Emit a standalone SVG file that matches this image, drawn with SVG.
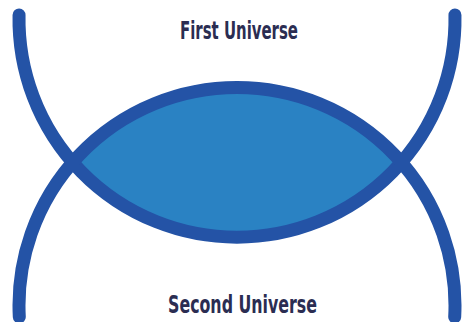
<svg xmlns="http://www.w3.org/2000/svg" width="465" height="322" viewBox="0 0 465 322">
  <style>
    .arc { fill: none; stroke: #2453a6; stroke-width: 13; stroke-linecap: round; }
    .lens { fill: #2a82c3; stroke: none; }
    .label { font-family: "Liberation Sans Narrow", "DejaVu Sans Condensed", "Liberation Sans", sans-serif; font-weight: bold; font-size: 24px; fill: #2b2d52; text-anchor: middle; }
  </style>
  <rect width="465" height="322" fill="#ffffff"/>
  <g id="overlap">
    <path class="lens" d="M72.9,162.5 A218,218 0 0 1 401.1,162.5 A218,218 0 0 1 72.9,162.5 Z"/>
  </g>
  <g id="connectors">
    <g id="first-universe-arc">
      <path class="arc" d="M19.04,15 A218,218 0 1 0 454.96,15"/>
    </g>
    <g id="second-universe-arc">
      <path class="arc" d="M19.3,317 A218,218 0 1 1 454.7,317"/>
    </g>
  </g>
  <g id="first-universe">
    <text class="label" x="239" y="39" textLength="118" lengthAdjust="spacingAndGlyphs">First Universe</text>
  </g>
  <g id="second-universe">
    <text class="label" x="242.5" y="313" textLength="149" lengthAdjust="spacingAndGlyphs">Second Universe</text>
  </g>
</svg>
